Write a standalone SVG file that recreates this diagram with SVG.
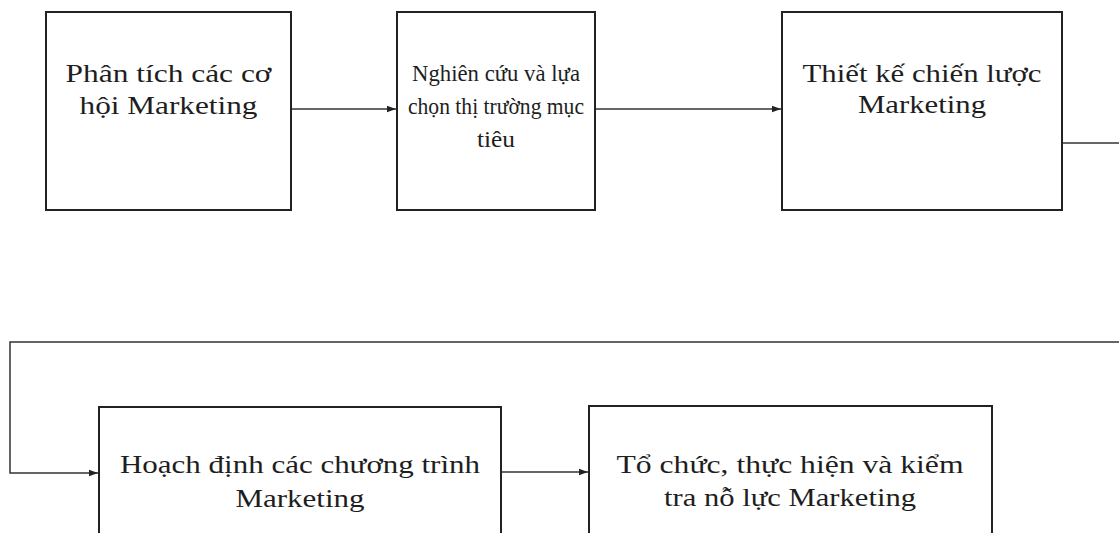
<svg xmlns="http://www.w3.org/2000/svg" width="1119" height="533" viewBox="0 0 1119 533">
  <style>
    .box { fill: #ffffff; stroke: #222222; stroke-width: 2; }
    .conn { fill: none; stroke: #333333; stroke-width: 1.5; }
    .lbl { font-family: "Liberation Serif", "Times New Roman", serif; font-size: 26px; fill: #1e1e1e; text-anchor: middle; }
    .lbl2 { font-family: "Liberation Serif", "Times New Roman", serif; font-size: 24px; fill: #1e1e1e; text-anchor: middle; }
  </style>
  <defs>
    <marker id="arrow" markerWidth="10" markerHeight="8" refX="9" refY="4" orient="auto" markerUnits="userSpaceOnUse">
      <path d="M0,0.8 L9,4 L0,7.2 Z" fill="#222222"/>
    </marker>
  </defs>
  <rect width="1119" height="533" fill="#ffffff"/>

  <g id="connectors">
    <line class="conn" x1="291" y1="109" x2="396" y2="109" marker-end="url(#arrow)"/>
    <line class="conn" x1="595" y1="109" x2="781" y2="109" marker-end="url(#arrow)"/>
    <line class="conn" x1="1062" y1="143" x2="1119" y2="143"/>
    <polyline class="conn" points="1119,342 10,342 10,473 98,473" marker-end="url(#arrow)"/>
    <line class="conn" x1="501" y1="472" x2="588" y2="472" marker-end="url(#arrow)"/>
  </g>

  <g id="node1">
    <rect class="box" x="46" y="12" width="245" height="198"/>
    <text class="lbl" x="168.5" y="82" textLength="206" lengthAdjust="spacingAndGlyphs">Phân tích các cơ</text>
    <text class="lbl" x="168.5" y="114" textLength="178" lengthAdjust="spacingAndGlyphs">hội Marketing</text>
  </g>

  <g id="node2">
    <rect class="box" x="397" y="12" width="198" height="198"/>
    <text class="lbl2" x="496" y="81" textLength="168" lengthAdjust="spacingAndGlyphs">Nghiên cứu và lựa</text>
    <text class="lbl2" x="496" y="114" textLength="176" lengthAdjust="spacingAndGlyphs">chọn thị trường mục</text>
    <text class="lbl2" x="496" y="147" textLength="38" lengthAdjust="spacingAndGlyphs">tiêu</text>
  </g>

  <g id="node3">
    <rect class="box" x="782" y="12" width="280" height="198"/>
    <text class="lbl" x="922" y="82" textLength="239" lengthAdjust="spacingAndGlyphs">Thiết kế chiến lược</text>
    <text class="lbl" x="922" y="113" textLength="128" lengthAdjust="spacingAndGlyphs">Marketing</text>
  </g>

  <g id="node4">
    <rect class="box" x="99" y="407" width="402" height="140"/>
    <text class="lbl" x="300" y="473" textLength="360" lengthAdjust="spacingAndGlyphs">Hoạch định các chương trình</text>
    <text class="lbl" x="300" y="507" textLength="129" lengthAdjust="spacingAndGlyphs">Marketing</text>
  </g>

  <g id="node5">
    <rect class="box" x="589" y="406" width="403" height="140"/>
    <text class="lbl" x="790" y="473" textLength="347" lengthAdjust="spacingAndGlyphs">Tổ chức, thực hiện và kiểm</text>
    <text class="lbl" x="790" y="506" textLength="252" lengthAdjust="spacingAndGlyphs">tra nỗ lực Marketing</text>
  </g>
</svg>
